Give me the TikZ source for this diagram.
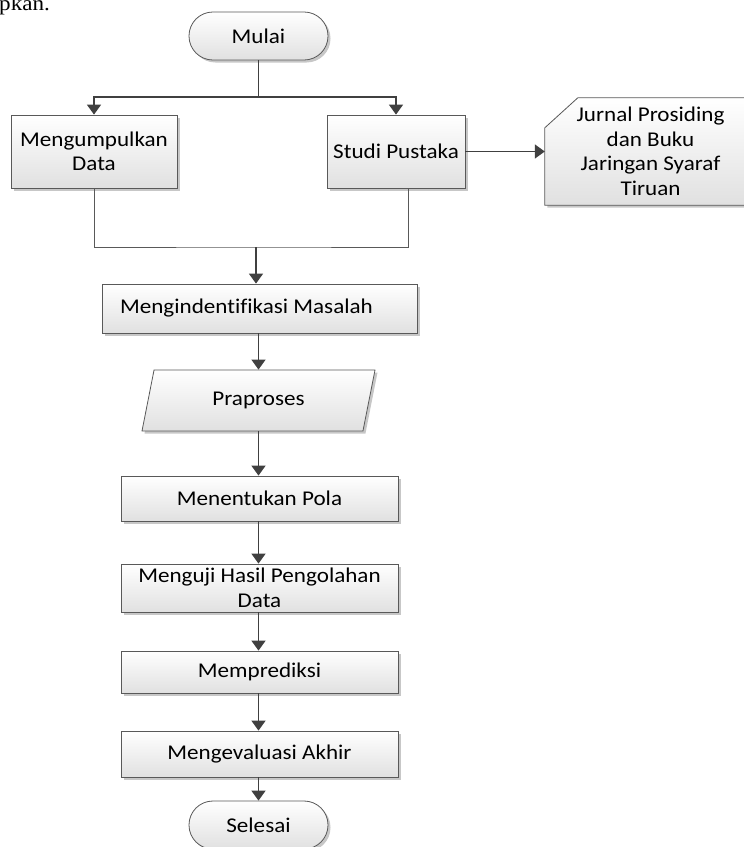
\documentclass[tikz,border=0pt]{standalone}
\usepackage{fontspec}
\setmainfont{Carlito}[FakeStretch=1.1, Ligatures=NoCommon]
\newfontfamily\textserif{Liberation Serif}[FakeStretch=1.1]
\usepackage{tikz}
\usetikzlibrary{positioning}
\usetikzlibrary{arrows.meta}
\usetikzlibrary{calc}
\usetikzlibrary{shapes.geometric}
\usetikzlibrary{shadows}
\usetikzlibrary{backgrounds}

\definecolor{linegray}{HTML}{404040}
\definecolor{edgegray}{HTML}{595959}

\begin{document}
\begin{tikzpicture}[x=1pt, y=-1pt,
    font=\fontsize{21}{24.5}\selectfont,
    >={Triangle[length=10pt,width=14pt]},
    flow/.style={draw=linegray, line width=1.5pt},
    merge/.style={draw=edgegray, line width=0.8pt},
    boxfill/.style={draw=edgegray, line width=0.8pt, top color=white, bottom color=black!12,
      drop shadow={shadow xshift=2.5pt, shadow yshift=-2.5pt, fill=black!22, opacity=1}},
    process/.style={boxfill, rectangle, align=center, inner sep=2pt},
    terminal/.style={boxfill, rectangle, rounded corners=23.9pt, minimum width=139pt, minimum height=48pt}]
 	 % Fix the picture size
 	 \useasboundingbox (0,0) rectangle (744,847);
 	 \node[anchor=base west, inner sep=0pt, font=\textserif\fontsize{21}{24}\selectfont] (prevtext) at (-1,10) {pkan.};

 	 % Start and the two first steps
 	 \node[terminal] (mulai) at (258.5,36) {Mulai};
 	 \node[process, minimum width=166pt, minimum height=73pt] (kumpul) at (94,151.5) {Mengumpulkan\\Data};
 	 \node[process, minimum width=138pt, minimum height=73pt] (studi) at (396,151.5) {Studi Pustaka};

 	 % Source of the literature, a card with one cut corner
 	 \node[minimum width=211pt, minimum height=107pt, align=center, inner sep=0pt] (jurnal) at (650.5,151.5) {Jurnal Prosiding\\dan Buku\\Jaringan Syaraf\\Tiruan};
 	 \begin{scope}[on background layer]
 	 \path[boxfill] ($(jurnal.north west)+(0,30)$) -- ($(jurnal.north west)+(33,0)$) -- (jurnal.north east) -- (jurnal.south east) -- (jurnal.south west) -- cycle;
 	 \end{scope}

 	 % Main chain
 	 \node[process, minimum width=315pt, minimum height=49pt] (identifikasi) at (259.5,308.5) {Mengindentifikasi Masalah\hspace*{26pt}};
 	 \node[boxfill, trapezium, trapezium left angle=60, trapezium right angle=120, trapezium stretches body,
 	   minimum width=233pt, minimum height=61pt, inner sep=2pt] (praproses) at (258.5,400.5) {Praproses};
 	 \node[process, minimum width=277pt, minimum height=45pt] (pola) at (259.5,498.5) {Menentukan Pola};
 	 \node[process, minimum width=277pt, minimum height=48pt, inner sep=0pt] (uji) at (259.5,588) {Menguji Hasil Pengolahan\\Data};
 	 \node[process, minimum width=277pt, minimum height=42pt] (prediksi) at (259.5,672) {Memprediksi};
 	 \node[process, minimum width=277pt, minimum height=46pt] (evaluasi) at (259.5,754) {Mengevaluasi Akhir};
 	 \node[terminal] (selesai) at (258.5,825) {Selesai};

 	 % Split after the start
 	 \coordinate (split) at (258.5,97);
 	 \draw[flow] (mulai) -- (split);
 	 \draw[flow, ->] (split) -| (kumpul.north);
 	 \draw[flow, ->] (split) -| (studi.north);
 	 \draw[flow, ->] (studi) -- (jurnal.west);

 	 % Both branches join again
 	 \coordinate (studiout) at ($(studi.south)+(12,0)$);
 	 \coordinate (join) at (256,247);
 	 \draw[merge] (kumpul.south) |- (join) -| (studiout);
 	 \draw[flow, ->] (join) -- (join |- identifikasi.north);

 	 \foreach \a/\b in {identifikasi/praproses, praproses/pola, pola/uji, uji/prediksi, prediksi/evaluasi, evaluasi/selesai} {
 	 	\draw[flow, ->] (\a.south -| split) -- (\b.north -| split);
 	 }
\end{tikzpicture}
\end{document}
